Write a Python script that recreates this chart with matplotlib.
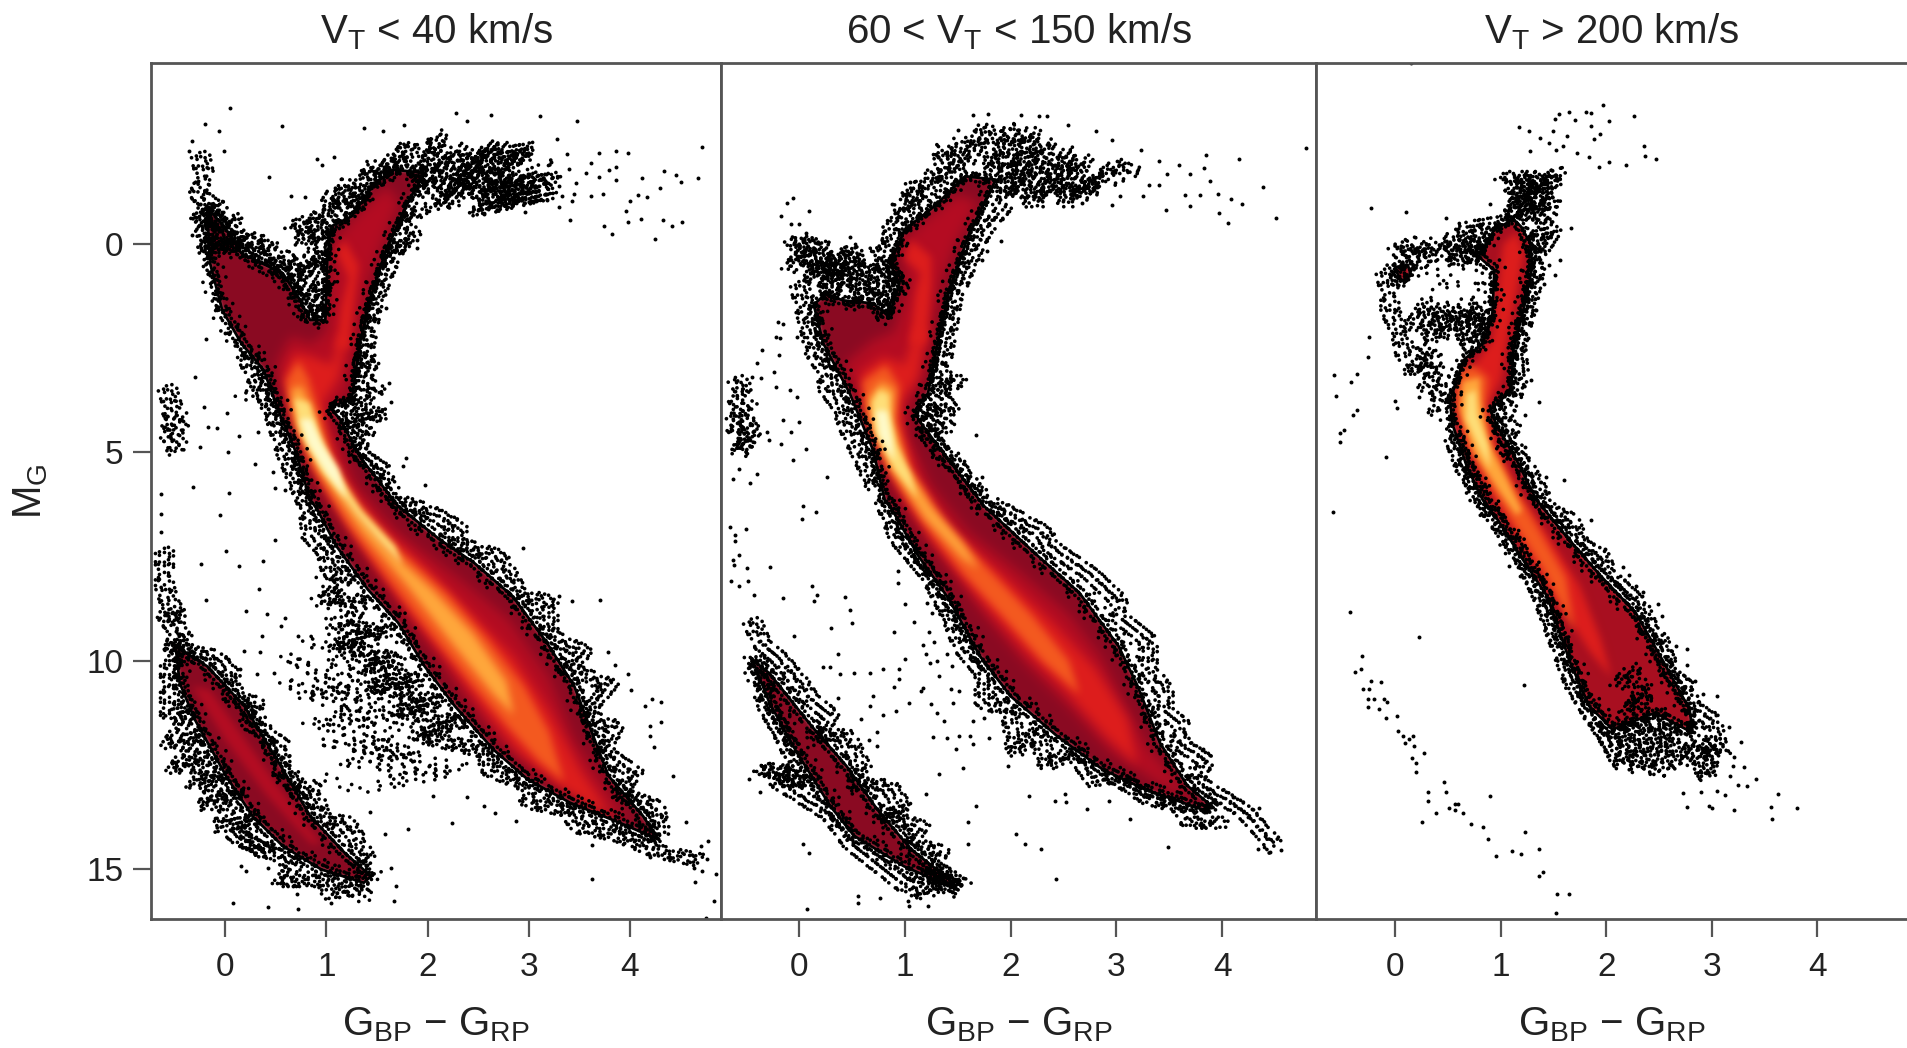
import matplotlib
matplotlib.use('Agg')
import matplotlib.pyplot as plt
from matplotlib.colors import to_rgb
from matplotlib.patches import Polygon, PathPatch
from matplotlib.path import Path
from matplotlib.transforms import offset_copy
import numpy as np

plt.rcParams['font.family'] = ['Liberation Sans', 'DejaVu Sans']
plt.rcParams['mathtext.fontset'] = 'custom'
plt.rcParams['mathtext.rm'] = 'Liberation Sans'
plt.rcParams['mathtext.default'] = 'rm'

titles = [r'$\mathrm{V_T}$ < 40 km/s', r'60 < $\mathrm{V_T}$ < 150 km/s', r'$\mathrm{V_T}$ > 200 km/s']
x_ticks = [0, 1, 2, 3, 4]
y_ticks = [0, 5, 10, 15]
level_colors = ['#b50d22', '#de1e1c', '#f45a20', '#ffa83c', '#ffe07a', '#fffbcc']
level_blur = [6, 5, 4, 4, 3, 3]

# main sequence + giants outline (colour, magnitude)
p1_body = [(-0.18,-0.9),(-0.15,0.45),(-0.03,1.58),(0.16,2.38),(0.38,3.02),(0.55,4.14),(0.69,4.94),(0.84,6.13),(0.91,6.37),(1.10,7.25),(1.41,8.29),(1.71,9.09),(1.97,10.13),(2.27,11.09),(2.65,12.13),(2.99,12.85),(3.41,13.41),(3.90,13.89),(4.28,14.29),(4.13,13.73),(3.79,12.77),(3.60,11.57),(3.45,10.61),(3.18,9.57),(2.84,8.45),(2.46,7.65),(2.12,7.09),(1.71,6.29),(1.33,5.10),(1.14,4.22),(1.03,3.90),(1.25,3.74),(1.33,2.38),(1.44,1.26),(1.59,0.14),(1.82,-1.07),(1.97,-1.71),(1.67,-1.79),(1.48,-1.47),(1.25,-0.67),(1.05,-0.43),(1.01,0.30),(0.99,1.82),(0.84,1.82),(0.72,1.26),(0.57,0.70),(0.16,0.22),(0.01,-0.35)]
p1_wd = [(-0.49,9.65),(-0.45,10.53),(-0.30,11.41),(0.01,12.77),(0.27,13.73),(0.57,14.45),(0.95,15.01),(1.37,15.33),(1.44,15.17),(1.18,14.61),(0.84,13.73),(0.61,12.77),(0.19,11.09),(-0.18,10.13)]
p1_levels = [
    [(0.50,2.9),(0.62,3.9),(0.80,5.0),(1.0,6.0),(1.45,7.6),(1.9,9.2),(2.3,10.6),(2.7,11.9),(3.1,12.7),(3.6,13.4),(4.0,13.9),(3.75,13.0),(3.45,11.9),(3.2,10.4),(2.8,9.0),(2.3,8.0),(1.7,6.9),(1.3,5.8),(1.1,4.6),(1.02,4.0),(1.2,3.6),(1.3,2.2),(1.4,1.0),(1.55,0.0),(1.72,-1.0),(1.6,-1.4),(1.3,-0.7),(1.08,-0.1),(1.04,1.0),(1.0,2.1),(0.85,2.4),(0.65,2.2)],
    [(0.58,3.2),(0.70,4.2),(0.9,5.5),(1.3,7.1),(1.8,8.8),(2.2,10.0),(2.6,11.3),(2.9,12.2),(3.3,13.0),(3.85,13.85),(3.5,12.6),(3.2,11.2),(2.85,9.9),(2.45,8.9),(2.0,7.8),(1.5,6.7),(1.15,5.6),(1.0,4.5),(0.96,3.8),(1.12,3.2),(1.2,2.2),(1.12,2.2),(1.05,2.9),(0.85,2.7),(0.68,2.6)],
    [(0.60,3.3),(0.66,4.2),(0.85,5.3),(1.2,6.7),(1.6,8.0),(2.05,9.4),(2.45,10.6),(2.8,11.6),(3.1,12.4),(3.35,12.9),(3.2,11.7),(2.95,10.6),(2.6,9.5),(2.2,8.4),(1.7,7.3),(1.3,6.2),(1.05,5.1),(0.92,4.0),(0.82,3.2),(0.72,2.8)],
    [(0.65,3.5),(0.72,4.4),(0.95,5.5),(1.35,6.9),(1.8,8.2),(2.25,9.6),(2.65,10.8),(2.85,11.3),(2.78,10.5),(2.45,9.35),(2.05,8.3),(1.6,7.3),(1.2,6.1),(0.98,5.0),(0.86,4.0),(0.75,3.4)],
    [(0.68,3.7),(0.74,4.5),(0.95,5.4),(1.3,6.5),(1.55,7.2),(1.75,7.7),(1.68,7.25),(1.35,6.4),(1.08,5.4),(0.93,4.6),(0.83,3.8)],
    [(0.74,4.2),(0.82,4.8),(1.0,5.5),(1.2,6.1),(1.12,5.4),(0.96,4.8),(0.85,4.2)],
]
p1_spots = [
    ('#de1e1c', [(1.1,2.5),(1.15,1.5),(1.22,0.8),(1.1,0.2),(1.18,-0.1),(1.32,0.5),(1.28,1.2),(1.22,2.5)]),
    ('#b50d22', [(-0.33,10.6),(0.0,11.9),(0.4,13.2),(0.85,14.4),(0.95,14.4),(0.55,13.1),(0.2,11.9),(-0.15,10.7)]),
]
p1_fringe = [
    [(-0.25,-2.2),(-0.2,-1.6),(-0.28,-1.2),(-0.15,-1.0),(-0.27,-0.6),(-0.05,-0.9),(-0.22,-0.3),(0.1,-0.6),(-0.2,0.1),(0.15,-0.2),(-0.18,0.3)],
    [(-0.05,0),(0.1,0.1),(0.3,-0.2),(0.2,0.2),(0.45,0.0),(0.35,0.4),(0.6,0.3),(0.5,0.7),(0.75,0.4),(0.62,1.0),(0.95,0.3),(0.7,1.3),(0.98,1.0),(0.8,1.7),(0.98,1.5)],
    [(0.65,-0.4),(0.95,-0.7),(0.75,-0.1),(1.0,-0.3),(0.9,0.1),(1.0,0.5)],
    [(1.0,-0.4),(1.05,-1.2),(1.15,-0.8),(1.2,-1.5),(1.3,-0.9),(1.45,-1.9),(1.5,-1.5),(1.7,-2.2)],
    [(1.6,-1.6),(1.8,-2.4),(1.95,-1.5),(2.1,-2.6),(2.0,-1.2),(2.3,-2.3),(2.15,-0.9),(2.5,-2.2),(2.25,-1.2),(2.7,-2.4),(2.35,-1.5),(2.9,-2.1),(2.6,-1.3),(3.0,-1.7),(2.9,-1.1)],
    [(2.3,-2.0),(3.0,-2.3),(2.4,-1.2),(3.25,-1.6),(2.7,-1.0),(3.2,-1.2),(2.5,-0.8),(2.85,-1.6)],
    [(1.98,-0.9),(1.75,-0.5),(1.85,-0.2),(1.65,0.2),(1.72,0.0),(1.55,0.9),(1.45,1.6),(1.4,2.3),(1.35,2.9),(1.45,2.8),(1.35,3.3),(1.5,3.5),(1.25,4.0),(1.55,4.1),(1.2,4.3),(1.4,4.5),(1.3,5.0),(1.55,5.4),(1.6,5.9)],
    [(0.2,2.6),(0.3,3.2),(0.4,3.6),(0.5,4.2),(0.6,5.0),(0.75,5.9),(0.82,6.3),(0.85,7.0),(1.0,7.4),(1.05,7.9),(1.2,8.0),(1.0,8.5),(1.35,8.6),(1.2,9.2),(1.6,9.3),(1.1,9.6),(1.7,10),(1.4,10.1),(1.9,10.5),(1.5,10.6),(2.1,11),(1.7,11.2),(2.3,11.5),(1.9,11.8),(2.6,12.2),(2.6,12.6),(3.0,13.0),(3.0,13.4),(3.4,13.6),(3.5,14.0),(3.9,14.2),(4.3,14.6),(4.7,14.8)],
    [(1.6,6.1),(2.0,6.4),(2.3,6.8),(2.3,7.2),(2.7,7.5),(2.9,8.4),(3.2,8.6),(3.2,9.4),(3.55,9.8),(3.4,10.2),(3.8,10.6),(3.55,11.3),(3.85,11.6),(3.75,12.2),(4.05,12.7),(3.9,13.2),(4.25,13.5),(4.3,14.1)],
    [(-0.58,3.4),(-0.52,3.9),(-0.55,4.0),(-0.47,4.1),(-0.55,4.3),(-0.45,4.4),(-0.55,4.6),(-0.47,4.8),(-0.5,5.0)],
    [(-0.6,7.3),(-0.6,8.2),(-0.55,8.6),(-0.45,9.0),(-0.6,8.9),(-0.4,9.5),(-0.55,9.6),(-0.35,9.8),(-0.1,9.9),(0.05,10.3),(0.1,11.0),(0.3,11.0),(0.25,11.5),(0.55,12.0),(0.55,12.6),(0.75,13.2),(0.85,13.0),(0.95,13.8),(1.2,13.9),(1.3,14.3),(1.4,14.8),(1.3,15.0)],
    [(-0.55,10.0),(-0.55,11.3),(-0.35,11.2),(-0.55,12.0),(-0.25,11.8),(-0.5,12.6),(-0.2,12.3),(-0.3,13.0),(-0.05,12.7),(-0.2,13.5),(0.1,13.1),(-0.05,14.0),(0.3,13.8),(0.1,14.2),(0.4,14.6),(0.2,14.3),(0.7,14.9),(0.55,15.3),(1.0,15.3),(1.05,15.6),(1.3,15.5),(1.4,15.7)],
]
p1_sparse = [
    [(0.9,7.3),(1.1,8.7),(0.85,8.5),(1.3,10),(0.75,9.5),(1.6,11),(0.6,10),(1.7,11.5),(0.5,10.5),(1.4,11.6),(0.75,11.5),(1.9,12.3),(1.1,12.5),(2.2,12.8),(1.3,13.2),(0.9,12.8)],
    [(1.05,9.0),(1.55,9.9),(1.0,10.1),(1.85,11.1),(0.85,10.6),(2.05,11.9),(1.05,11.2),(1.75,12.4),(0.9,12.0),(2.35,12.6),(1.5,12.9)],
    [(0.55,9.9),(1.2,10.9),(0.7,10.9),(1.45,10.6),(0.95,11.6),(1.6,12.1),(1.25,11.3),(2.0,12.7),(1.2,12.0),(1.75,13.0)],
    [(0.9,8.0),(1.3,9.3),(0.95,9.2),(1.45,10.3),(1.15,10.3),(1.7,10.8)],
    [(2.2,-0.9),(2.6,-1.0),(2.9,-1.2),(3.2,-1.9),(2.75,-1.9),(2.4,-0.7)],
    [(0.1,3.65),(0.4,3.9),(0.2,3.5),(0.45,4.0),(0.3,3.55)],
]
p1_pts = [(0.05,-3.27),(0.56,-2.83),(-0.20,-2.89),(-0.06,-2.72),(-0.33,-2.47),(-0.36,-2.24),(-0.01,-2.24),(0.43,-1.62),(-0.33,-0.22),(0.65,-1.16),(0.79,-1.14),(0.91,-2.04),(0.96,-1.9),(1.08,-2.09),(1.37,-2.78),(1.56,-2.72),(1.77,-2.85),(2.28,-3.15),(2.39,-2.96),(2.63,-3.1),(3.11,-3.08),(3.48,-2.95),(4.71,-2.33),(4.67,-1.59),(3.98,-2.2),(3.86,-2.24),(3.69,-2.2),(3.38,-2.16),(3.28,-2.52),(4.34,-1.75),(4.46,-1.67),(4.50,-1.49),(4.30,-1.35),(4.12,-1.59),(4.17,-1.13),(4.08,-1.17),(4.0,-1.03),(3.96,-0.8),(3.98,-0.54),(4.11,-0.61),(4.33,-0.59),(4.42,-0.43),(4.51,-0.53),(4.25,-0.13),(3.82,-0.24),(3.74,-0.44),(3.41,-0.59),(3.22,-1.98),(3.62,-1.96),(3.57,-1.7),(3.86,-1.85),(3.79,-1.79),(3.69,-1.61),(3.86,-1.55),(3.73,-1.21),(3.62,-1.16),(3.47,-1.48),(3.40,-1.81),(3.30,-1.39),(3.45,-1.21),(3.33,-1.16),(3.43,-1.03),(3.30,-0.89),(3.18,-1.05),(3.07,-1.03),(2.96,-0.77),(2.56,-0.72),
    (-0.30,3.18),(-0.19,2.27),(0.0,2.12),(-0.21,3.9),(0.02,4.06),(-0.17,4.39),(-0.08,4.42),(0.14,4.6),(0.32,4.51),(-0.25,4.87),(0.03,4.98),(0.29,5.28),(0.47,5.48),(-0.32,5.83),(0.04,5.98),(-0.63,5.99),(0.49,5.86),(0.59,5.9),(1.59,1.54),(1.62,3.34),(1.64,3.79),(1.79,5.14),(1.76,5.33),(1.97,5.77),(1.90,-0.1),(1.90,0.09),
    (-0.63,6.47),(-0.05,6.49),(-0.63,6.9),(0.49,7.1),(0.01,7.37),(-0.24,7.67),(0.14,7.72),(0.37,7.6),(0.33,8.28),(-0.19,8.53),(0.21,8.8),(0.41,8.88),(0.59,8.98),(0.55,9.17),(0.36,9.41),(0.72,9.41),(0.19,9.76),(0.34,9.78),(0.03,9.96),(0.15,10.2),(0.31,10.33),(0.48,10.3),(2.94,7.29),(3.70,8.53),(3.43,8.56),(3.30,8.45),(3.78,9.8),(3.85,10.11),(3.98,10.31),(4.01,10.7),(4.22,10.92),(4.31,11.0),(4.15,11.08),(4.31,11.48),(4.2,11.57),(4.2,11.8),(4.24,12.08),(4.43,12.76),(4.55,13.88),(4.35,13.79),(4.77,14.33),(4.70,14.45),(4.76,14.75),(4.63,14.97),(4.71,15.05),(4.85,15.12),(4.64,15.3),(4.83,15.76),(4.75,16.17),(3.63,14.43),(3.63,15.24),(4.20,14.71),
    (0.08,15.81),(0.42,15.92),(0.72,15.95),(1.05,15.81),(1.67,15.77),(1.69,15.41),(1.64,14.97),(1.81,14.05),(1.58,14.17),(2.24,13.9),(2.67,13.65),(2.87,13.85),(2.56,13.49),(2.39,13.28),(2.05,13.25),(1.43,13.63),(0.21,15.05),(0.16,14.93),(0.42,14.97),(0.67,15.41),(0.71,15.61)]

p2_body = [(0.14,1.45),(0.23,2.38),(0.48,3.58),(0.70,4.94),(0.81,6.14),(0.88,6.37),(1.13,7.49),(1.42,8.53),(1.71,9.89),(2.0,10.85),(2.44,11.81),(2.87,12.61),(3.27,13.09),(3.81,13.57),(3.92,13.53),(3.67,13.0),(3.41,11.97),(3.20,10.61),(3.02,9.65),(2.65,8.37),(2.26,7.49),(1.75,6.29),(1.39,5.10),(1.13,4.22),(1.10,3.98),(1.22,3.58),(1.31,2.38),(1.42,1.10),(1.60,-0.19),(1.86,-1.55),(1.57,-1.63),(1.28,-0.91),(1.0,-0.35),(0.86,0.46),(0.95,0.94),(0.85,1.74),(0.70,1.42),(0.42,1.35),(0.25,1.2)]
p2_wd = [(-0.44,9.97),(-0.28,11.0),(-0.02,12.2),(0.30,13.5),(0.52,14.2),(0.99,14.93),(1.50,15.5),(1.42,15.25),(1.06,14.53),(0.74,13.57),(0.45,12.53),(0.12,11.57),(-0.28,10.3)]
p2_levels = [
    [(0.42,2.9),(0.6,3.9),(0.78,5.0),(0.98,6.2),(1.35,7.5),(1.75,8.9),(2.15,10.1),(2.55,11.1),(2.95,12.2),(3.4,12.95),(3.75,13.4),(3.3,12.1),(3.05,10.9),(2.85,9.9),(2.55,8.9),(2.1,7.9),(1.6,6.9),(1.25,5.8),(1.03,4.6),(1.03,3.9),(1.18,3.2),(1.26,2.0),(1.35,0.9),(1.5,-0.1),(1.7,-1.0),(1.5,-1.2),(1.2,-0.6),(0.95,0.0),(1.02,1.0),(0.9,2.1),(0.7,2.3)],
    [(0.58,3.1),(0.66,4.2),(0.88,5.6),(1.25,7.1),(1.7,8.5),(2.15,9.8),(2.55,10.8),(2.9,11.8),(3.2,12.5),(3.1,11.4),(2.8,10.2),(2.4,9.1),(1.95,8.0),(1.45,6.9),(1.12,5.6),(0.98,4.5),(0.96,3.8),(1.12,3.2),(1.2,2.0),(1.1,2.0),(1.0,2.9),(0.8,2.7)],
    [(0.60,3.3),(0.64,4.2),(0.82,5.3),(1.15,6.6),(1.55,7.9),(1.95,9.0),(2.3,10.0),(2.65,10.8),(2.55,10.0),(2.2,8.9),(1.75,7.7),(1.35,6.6),(1.05,5.4),(0.92,4.2),(0.95,3.4),(0.82,2.9)],
    [(0.66,3.7),(0.70,4.4),(0.88,5.4),(1.2,6.6),(1.55,7.55),(1.7,7.8),(1.55,7.2),(1.25,6.3),(1.0,5.3),(0.88,4.3),(0.90,3.5),(0.78,3.3)],
    [(0.69,3.8),(0.72,4.5),(0.9,5.4),(1.12,6.1),(1.05,5.5),(0.92,4.8),(0.86,4.1),(0.85,3.6),(0.76,3.5)],
    [(0.73,4.0),(0.76,4.6),(0.9,5.2),(0.88,4.7),(0.83,4.0)],
]
p2_spots = [('#de1e1c', [(1.05,2.4),(1.1,1.2),(1.15,0.7),(1.0,0.35),(1.06,-0.1),(1.25,0.3),(1.25,1.0),(1.2,2.4)])]
p2_fringe = [
    [(0.0,0.4),(0.1,0.0),(0.15,0.9),(0.2,0.4),(0.3,1.2),(0.35,0.4),(0.45,1.1),(0.5,0.1),(0.6,1.3),(0.65,0.5),(0.8,1.7),(0.8,0.4),(0.95,1.1),(0.75,0.0)],
    [(0.0,0.9),(0.05,1.5),(0.1,2.0),(0.15,2.6),(0.25,3.0),(0.28,3.5),(0.4,3.9),(0.5,4.6),(0.6,5.1),(0.72,5.8)],
    [(-0.1,0.6),(0.05,0.2),(-0.05,-0.1),(0.25,0.1),(0.15,0.6),(0.4,0.2),(0.3,0.8),(0.55,0.4)],
    [(0.9,0.2),(0.85,-0.4),(1.0,-0.7),(0.98,-1.0),(1.1,-0.9),(1.05,-1.4),(1.2,-1.1),(1.25,-1.7),(1.4,-1.5),(1.35,-2.3),(1.5,-1.8),(1.55,-2.6)],
    [(1.6,-2.0),(1.75,-2.8),(1.85,-1.8),(2.0,-2.8),(1.95,-1.1),(2.2,-2.7),(2.05,-1.2),(2.35,-2.4),(2.2,-1.0),(2.55,-2.2),(2.35,-1.2),(2.7,-2.0),(2.5,-1.1),(2.8,-1.5),(2.65,-1.2),(3.0,-1.9),(3.15,-1.7)],
    [(1.95,-0.9),(1.75,-0.3),(1.65,0.2),(1.55,0.8),(1.45,1.4),(1.4,2.2),(1.35,2.9),(1.35,3.3),(1.5,3.3),(1.3,3.6),(1.45,4.0),(1.15,4.0),(1.4,4.4),(1.2,4.5),(1.35,5.0),(1.55,5.5),(1.7,6.1)],
    [(1.8,6.2),(2.3,6.9),(2.4,7.3),(2.75,7.9),(3.0,8.5),(3.05,9.0),(3.3,9.5),(3.3,10.2),(3.45,10.7),(3.45,11.2),(3.6,11.5),(3.6,12.0),(3.85,12.4),(3.75,12.9),(3.95,13.2),(4.2,13.6),(4.45,14.3),(4.5,14.5)],
    [(0.8,6.1),(0.95,7.1),(1.25,8.0),(1.45,9.0),(1.55,9.7),(1.75,10.3),(1.75,11.0),(2.0,11.2),(2.05,12.2),(2.25,11.7),(2.35,12.5),(2.6,12.2),(2.8,12.9),(3.0,12.8),(3.3,13.3),(3.6,13.5),(3.7,13.9),(4.0,13.9)],
    [(-0.62,4.2),(-0.55,4.0),(-0.6,4.5),(-0.45,4.3),(-0.55,4.9),(-0.45,4.6),(-0.55,5.0)],
    [(-0.6,3.2),(-0.52,3.5),(-0.6,3.7),(-0.47,3.9)],
    [(-0.45,9.0),(-0.35,9.6),(-0.2,9.9),(0.0,10.5),(0.1,10.9),(0.3,11.3),(0.2,11.8),(0.45,11.8),(0.6,12.6),(0.55,13.0),(0.85,13.0),(1.0,13.6),(0.8,13.7),(1.15,14.0),(1.05,14.4),(1.35,14.6),(1.25,14.9),(1.55,15.4)],
    [(-0.35,10.2),(-0.3,11.1),(-0.1,12.0),(0.0,12.7),(-0.35,12.6),(0.1,12.9),(-0.2,12.9),(0.3,13.7),(0.5,14.4),(0.75,14.9),(1.0,15.4),(1.2,15.6),(1.4,15.2),(1.1,15.2)],
]
p2_sparse = [[(2.2,-0.9),(2.6,-0.9),(2.9,-1.3),(3.2,-1.7),(2.9,-1.9)]]
p2_pts = [(1.64,-3.1),(1.79,-3.13),(2.10,-3.1),(2.27,-3.08),(2.34,-3.08),(1.50,-2.75),(2.54,-2.87),(2.81,-2.72),(2.96,-2.5),(4.79,-2.32),(4.16,-2.04),(3.85,-2.13),(3.83,-1.84),(3.59,-1.9),(3.40,-2.0),(3.23,-2.27),(3.48,-1.69),(3.69,-1.68),(3.88,-1.52),(4.38,-1.37),(3.96,-1.21),(4.08,-1.09),(4.19,-0.97),(3.79,-1.17),(3.65,-1.17),(3.69,-0.91),(3.47,-0.81),(3.97,-0.75),(4.05,-0.52),(4.51,-0.62),(3.25,-1.15),(3.31,-1.43),(3.40,-1.41),(3.03,-1.15),(2.96,-0.95),(2.67,-0.98),(1.91,-0.07),(1.73,0.38),(1.78,0.16),(0.88,-0.97),(1.05,-1.49),(-0.06,-1.1),(-0.11,-1.0),(-0.17,-0.68),(0.10,-0.79),(-0.07,-0.49),(0.0,-0.49),(0.07,-0.27),(0.48,-0.17),
    (-0.20,1.86),(-0.15,1.91),(-0.22,2.23),(-0.18,2.25),(-0.02,2.22),(-0.35,2.55),(-0.19,2.67),(-0.40,2.86),(-0.24,3.07),(-0.44,3.18),(-0.36,3.22),(-0.22,3.42),(-0.08,3.51),(-0.02,3.66),(-0.15,4.22),(0.0,4.26),(-0.30,4.50),(-0.07,4.50),(-0.28,4.71),(-0.17,4.79),(0.07,4.91),(-0.06,5.18),(0.27,5.59),(-0.57,5.4),(-0.40,5.51),(-0.62,5.63),(-0.46,5.74),(1.67,4.58),(1.73,5.58),
    (0.04,6.29),(0.16,6.44),(0.03,6.6),(-0.65,6.8),(-0.50,6.83),(-0.60,6.97),(-0.60,7.13),(-0.57,7.45),(-0.62,7.57),(-0.61,7.71),(-0.49,7.77),(-0.27,7.76),(-0.64,8.09),(-0.57,8.21),(-0.48,8.09),(-0.42,8.41),(0.12,8.2),(0.17,8.41),(0.14,8.57),(-0.15,8.5),(0.44,8.47),(0.48,8.79),(0.50,9.09),(0.30,9.21),(-0.05,9.4),(0.37,9.84),(0.23,10.16),(0.29,10.16),(0.39,10.31),(0.52,10.3),(0.67,10.3),(0.79,10.21),(0.95,10.21),(0.95,10.44),(0.90,10.63),(0.37,10.9),(0.70,10.84),(0.67,11.08),(0.92,11.2),(0.79,11.31),(0.59,11.41),(0.74,11.7),(0.66,11.9),(0.74,12.05),
    (0.94,7.84),(0.94,8.13),(1.0,8.64),(1.09,9.08),(0.90,9.31),(1.21,8.61),(1.26,8.85),(1.35,8.89),(1.23,9.31),(1.17,9.63),(1.28,9.56),(1.20,9.84),(1.40,9.84),(1.0,9.95),(1.24,10.05),(1.30,10.0),(1.45,10.13),(1.32,10.37),(1.17,10.65),(1.15,10.73),(1.04,11.01),(1.25,11.03),(1.44,10.69),(1.51,10.73),(1.46,11.01),(1.30,11.25),(1.37,11.45),(1.75,11.38),(1.64,11.44),(1.27,11.83),(1.40,11.85),(1.51,11.81),(1.62,11.81),(1.80,11.85),(1.64,12.01),(1.48,12.13),(1.55,12.57),(1.32,12.73),(1.98,12.53),(1.20,13.21),(1.67,13.49),(1.60,13.87),(1.60,14.4),(2.05,14.17),(2.14,14.41),(2.29,14.53),(2.43,15.23),(2.17,13.24),(2.42,13.37),(2.51,13.21),(2.52,13.40),(2.72,13.55),(2.93,13.37),(3.13,13.79),(3.49,14.47),(3.82,12.12),(3.65,11.77),(4.10,13.28),(4.28,13.56),(4.35,13.53),(4.55,14.55),(4.45,14.6),(4.34,14.53),
    (0.08,15.95),(0.56,15.65),(0.56,15.81),(0.77,15.69),(1.03,15.77),(1.04,15.89),(1.22,15.89),(0.04,14.39),(0.10,14.61),(-0.47,12.85),(-0.37,13.15)]

p3_body = [(1.12,-0.59),(0.94,-0.35),(0.79,0.30),(0.94,0.62),(0.92,1.74),(0.83,2.38),(0.65,2.78),(0.52,3.74),(0.54,4.30),(0.68,5.34),(0.83,6.14),(0.97,6.61),(1.23,7.65),(1.44,8.45),(1.66,10.05),(1.84,11.09),(2.06,11.65),(2.46,11.25),(2.82,11.73),(2.79,11.17),(2.53,9.97),(2.28,8.85),(1.95,7.97),(1.62,7.01),(1.34,6.14),(1.15,5.18),(0.97,4.38),(0.90,3.98),(1.10,3.50),(1.12,2.54),(1.23,1.42),(1.30,0.54),(1.28,-0.03),(1.19,-0.43)]
p3_levels = [
    [(1.02,0.0),(0.98,1.0),(0.92,2.3),(0.75,2.9),(0.58,3.5),(0.62,4.5),(0.85,5.7),(1.15,7.0),(1.5,8.4),(1.85,9.8),(2.05,10.4),(1.95,9.5),(1.75,8.2),(1.45,7.0),(1.15,5.9),(0.95,4.8),(0.86,3.9),(1.0,3.3),(1.07,2.2),(1.15,1.2),(1.22,0.2),(1.15,-0.3)],
    [(0.60,3.1),(0.58,3.9),(0.70,4.9),(0.95,6.0),(1.2,7.0),(1.4,7.8),(1.7,9.3),(1.62,8.0),(1.35,6.8),(1.1,5.7),(0.92,4.8),(0.85,3.9),(0.88,3.2),(0.72,2.9)],
    [(0.64,3.3),(0.62,4.0),(0.75,5.0),(0.98,5.9),(1.15,6.5),(1.2,6.4),(1.05,5.6),(0.87,4.7),(0.81,3.8),(0.80,3.2)],
    [(0.68,3.6),(0.67,4.2),(0.8,4.9),(0.9,5.4),(0.88,4.8),(0.78,4.1),(0.76,3.5)],
]
p3_level_colors = ['#de1e1c', '#f45a20', '#ffa83c', '#ffe07a']
p3_fringe = [
    [(1.0,-1.6),(1.3,-1.6),(1.1,-1.3),(1.55,-1.7),(1.15,-1.1),(1.5,-1.4),(1.1,-0.9),(1.5,-1.0),(1.05,-0.7),(1.45,-0.7),(1.35,-0.2),(1.5,-0.3),(1.38,0.2)],
    [(0.0,0.0),(0.1,0.3),(0.15,-0.05),(0.25,0.5),(0.3,0.0),(0.45,0.3),(0.55,-0.2),(0.6,0.5),(0.65,-0.05),(0.78,0.35),(0.65,-0.4),(0.9,-0.5),(0.72,0.4)],
    [(0.15,2.0),(0.3,1.4),(0.35,2.3),(0.45,1.5),(0.55,2.2),(0.6,1.6),(0.7,2.4),(0.78,1.6),(0.82,2.1),(0.65,1.3)],
    [(0.2,2.5),(0.35,2.7),(0.15,3.0),(0.4,3.0),(0.3,3.4),(0.45,3.5),(0.4,4.0)],
    [(-0.1,0.6),(-0.05,1.2),(-0.05,1.6),(0.05,2.1),(0.1,2.7)],
    [(1.3,-0.2),(1.35,0.4),(1.3,1.0),(1.25,1.6),(1.15,2.5),(1.18,3.2),(1.1,3.8),(1.0,4.3),(1.1,4.4),(1.05,4.9),(1.2,5.2),(1.35,5.9),(1.45,6.4),(1.65,6.6),(1.75,7.2),(1.95,7.5),(2.0,7.9),(2.3,8.6),(2.4,9.2),(2.5,9.5),(2.6,10.3),(2.75,10.6),(2.8,11.1),(3.0,11.4),(3.05,12.0),(2.95,12.3)],
    [(0.55,4.6),(0.65,5.3),(0.9,6.4),(1.1,7.1),(1.25,7.7),(1.4,8.5),(1.5,9.2),(1.6,9.9),(1.7,10.6),(1.85,11.2),(2.0,11.8),(2.1,12.2)],
    [(1.95,11.5),(2.15,12.5),(2.25,11.4),(2.3,12.6),(2.45,11.3),(2.5,12.7),(2.6,11.6),(2.7,12.5),(2.85,11.9),(2.95,12.8),(3.0,12.0),(3.1,12.3)],
    [(2.1,10.6),(2.25,10.2),(2.35,11.0),(2.2,11.2),(2.4,10.7)],
]
p3_sparse = [[(0.3,0.7),(0.5,0.8),(0.35,1.1),(0.6,1.0),(0.8,1.1),(0.7,0.7)]]
p3_clump = [(0.0,0.55),(0.05,0.9),(0.15,0.75),(0.12,0.5)]
p3_pts = [(0.15,-4.35),(1.97,-3.35),(1.86,-3.15),(1.81,-3.17),(1.65,-3.18),(1.55,-3.12),(1.51,-3.0),(1.70,-2.97),(2.03,-2.96),(2.26,-3.07),(1.86,-2.84),(1.17,-2.81),(1.27,-2.72),(1.50,-2.72),(1.94,-2.65),(1.88,-2.53),(2.36,-2.36),(2.37,-2.12),(2.47,-2.04),(2.19,-1.9),(2.03,-1.97),(1.93,-1.85),(1.84,-2.1),(1.72,-2.19),(1.46,-2.43),(1.37,-2.55),(1.28,-2.23),(1.59,-2.35),(1.63,-2.59),(1.52,-2.27),
    (1.67,-0.39),(1.56,0.39),(1.46,0.5),(1.51,0.75),(1.41,0.96),(1.33,1.58),(1.26,2.25),(-0.23,-0.88),(0.10,-0.77),(0.48,-0.64),(0.90,-0.97),(-0.25,2.22),(-0.26,2.70),(-0.58,3.15),(-0.36,3.12),(-0.42,3.3),(-0.56,3.64),(0.0,3.76),(0.02,3.94),(0.23,3.67),(-0.36,3.98),(-0.40,4.10),(-0.48,4.46),(-0.52,4.54),(-0.52,4.74),(-0.09,5.11),(1.36,3.79),(1.29,3.26),(1.23,4.11),(1.23,4.86),(1.60,5.67),(1.43,5.58),
    (-0.59,6.44),(-0.43,8.83),(0.23,9.43),(1.22,10.58),(-0.31,9.89),(-0.32,10.21),(-0.38,10.28),(-0.23,10.48),(-0.13,10.5),(-0.30,10.67),(-0.25,10.69),(-0.26,10.91),(-0.20,10.92),(-0.11,10.91),(-0.08,10.99),(-0.26,11.11),(-0.15,11.15),(-0.09,11.37),(0.02,11.33),(0.03,11.69),(0.07,11.81),(0.17,11.8),(0.09,11.97),(0.13,11.89),(0.18,12.05),(0.27,12.21),(0.16,12.33),(0.20,12.45),(0.20,12.67),(0.46,12.92),(0.31,13.15),(0.48,13.15),(0.31,13.37),(0.57,13.43),(0.51,13.53),(0.60,13.43),(0.57,13.59),(0.64,13.65),(0.39,13.65),(0.25,13.88),(0.90,13.24),(0.72,13.92),(0.83,13.99),(0.88,14.28),(0.96,14.69),(1.11,14.57),(1.19,14.65),(1.23,14.11),(1.36,14.53),(1.40,15.08),(1.36,15.17),(1.53,15.6),(1.65,15.6),(1.52,16.05),
    (1.86,6.61),(1.99,7.32),(2.16,7.76),(2.22,7.93),(2.28,8.2),(2.35,8.36),(2.49,8.64),(2.53,8.93),(2.66,9.65),(2.77,9.73),(2.77,10.1),(2.84,10.48),(2.92,10.81),(3.05,10.85),(3.16,11.6),(3.28,11.95),(3.21,12.32),(3.20,12.52),(3.31,12.56),(3.42,12.84),(3.17,12.77),(3.25,12.99),(3.33,13.01),(3.63,13.21),(3.56,13.5),(3.81,13.53),(3.57,13.79),(3.21,13.59),(3.0,13.53),(2.97,13.48),(2.77,13.5),(3.13,13.23),(3.05,13.12),(2.90,13.15),(2.73,13.17),(1.08,7.73),(1.24,8.13),(1.36,8.67),(1.47,9.51),(1.79,11.37)]

# uneven dot spacing, so the strokes don't read as strings of beads
dot_gaps = (0.01, 1.1, 0.01, 2.6, 0.01, 0.9, 0.01, 1.8, 0.01, 3.3, 0.01, 1.3, 0.01, 2.2, 0.01, 0.8, 0.01, 4.0, 0.01, 1.5)
far_gaps = (0.01, 3.1, 0.01, 6.4, 0.01, 2.2, 0.01, 4.8, 0.01, 9.5, 0.01, 2.7, 0.01, 7.3, 0.01, 3.9)
sparse_gaps = (0.01, 3.0, 0.01, 5.5, 0.01, 2.4, 0.01, 4.2)
near_shifts = [(-2, 2), (2, -2), (-4, -3), (4, 3), (-2, -4), (2, 4)]
far_shifts = [(-8, 2), (8, -2), (-3, -8), (3, 8), (-11, -4), (11, 5)]
cloud_shifts = [(0, 0), (-5, 4), (5, -4), (4, 6), (-6, -5), (9, 2), (-9, -2)]


def soft_edge(color, sigma):
    # blurs the polygon's alpha, colour stays flat so edges don't go dark
    rgb = to_rgb(color)
    def f(im, dpi):
        pad = int(sigma * 3)
        a = np.pad(im[:, :, 3], pad)
        t = np.arange(-pad, pad + 1)
        k = np.exp(-t * t / (2.0 * sigma * sigma))
        k /= k.sum()
        a = np.apply_along_axis(lambda v: np.convolve(v, k, mode='same'), 0, a)
        a = np.apply_along_axis(lambda v: np.convolve(v, k, mode='same'), 1, a)
        out = np.zeros(a.shape + (4,))
        out[:, :, 0], out[:, :, 1], out[:, :, 2] = rgb
        out[:, :, 3] = a
        return out, -pad, -pad
    return f


def add_poly(ax, pts, color, sigma, zorder):
    p = Polygon(pts, closed=True, facecolor=color, edgecolor='none', zorder=zorder)
    p.set_agg_filter(soft_edge(color, sigma))
    ax.add_patch(p)


def dots(ax, path, shifts, gaps, lw=2.7):
    xy = np.array(path)
    for k, (dx, dy) in enumerate(shifts):
        tr = offset_copy(ax.transData, fig=ax.figure, x=dx, y=dy, units='dots')
        ax.plot(xy[:, 0], xy[:, 1], color='k', lw=lw, ls=(k * 1.7, gaps), dash_capstyle='round', transform=tr, zorder=12)


def draw_panel(ax, bodies, base, levels, colors, spots, fringe, sparse, pts):
    x0, x1 = ax.get_xlim()
    y1, y0 = ax.get_ylim()
    for b in bodies:
        add_poly(ax, b, base, 1.5, 2)
    for i, lev in enumerate(levels):
        add_poly(ax, lev, colors[i], level_blur[i + 6 - len(colors)], 3 + i)
    for col, s in spots:
        add_poly(ax, s, col, 4, 3)

    # white sheet with body-shaped holes trims the blurred colours at the outline
    holes = []
    for b in bodies:
        v = np.array(b + [b[0]])
        area = np.sum(v[:-1, 0] * v[1:, 1] - v[1:, 0] * v[:-1, 1])
        if area > 0:
            v = v[::-1]
        holes.append(Path(v, closed=True))
    frame_v = np.array([(x0, y0), (x1, y0), (x1, y1), (x0, y1), (x0, y0)])
    if np.sum(frame_v[:-1, 0] * frame_v[1:, 1] - frame_v[1:, 0] * frame_v[:-1, 1]) < 0:
        frame_v = frame_v[::-1]
    frame = Path(frame_v, closed=True)
    ax.add_patch(PathPatch(Path.make_compound_path(frame, *holes), facecolor='white', edgecolor='none', zorder=10))

    for b in bodies:
        ax.add_patch(Polygon(b, closed=True, facecolor='none', edgecolor='k', lw=2.0, joinstyle='round', zorder=11))
        dots(ax, b + [b[0]], near_shifts, dot_gaps)
        dots(ax, b + [b[0]], far_shifts, far_gaps)
    for path in fringe:
        dots(ax, path, cloud_shifts, dot_gaps)
    for path in sparse:
        dots(ax, path, [(0, 0), (6, 5)], sparse_gaps)
    xy = np.array(pts)
    ax.scatter(xy[:, 0], xy[:, 1], s=8, color='k', lw=0, zorder=12)


W, H = 1907.0, 1048.0
lefts = [151, 721, 1316]
rights = [721, 1316, 1907]
xlims = [(-0.733, 4.90), (-0.736, 4.885), (-0.75, 4.85)]
top, bottom = 63, 919

fig = plt.figure(figsize=(W / 100, H / 100), dpi=100)
axes = []
for i in range(3):
    ax = fig.add_axes([lefts[i] / W, 1 - bottom / H, (rights[i] - lefts[i]) / W, (bottom - top) / H])
    ax.set_xlim(*xlims[i])
    ax.set_ylim(16.2, -4.35)
    ax.set_xticks(x_ticks)
    ax.set_title(titles[i], fontsize=29, pad=14, color='#222222')
    ax.set_xlabel(r'$\mathrm{G_{BP}}$ − $\mathrm{G_{RP}}$', fontsize=29, labelpad=16, color='#222222')
    ax.tick_params(axis='both', length=13, width=1.6, color='#555555', labelsize=24, labelcolor='#222222')
    ax.tick_params(axis='x', pad=11)
    ax.tick_params(axis='y', pad=7)
    for s in ax.spines.values():
        s.set_color('#555555')
        s.set_linewidth(2.0)
        s.set_zorder(20)
    axes.append(ax)

axes[0].set_yticks(y_ticks)
axes[0].set_ylabel(r'$\mathrm{M_G}$', fontsize=29, labelpad=26, color='#222222')
axes[1].set_yticks([])
axes[2].set_yticks([])
axes[2].spines['right'].set_visible(False)

draw_panel(axes[0], [p1_body, p1_wd], '#8a0a22', p1_levels, level_colors, p1_spots, p1_fringe, p1_sparse, p1_pts)
draw_panel(axes[1], [p2_body, p2_wd], '#8a0a22', p2_levels, level_colors, p2_spots, p2_fringe, p2_sparse, p2_pts)
draw_panel(axes[2], [p3_body, p3_clump], '#a80f20', p3_levels, p3_level_colors, [], p3_fringe, p3_sparse, p3_pts)

fig.savefig('out.png', dpi=100)
